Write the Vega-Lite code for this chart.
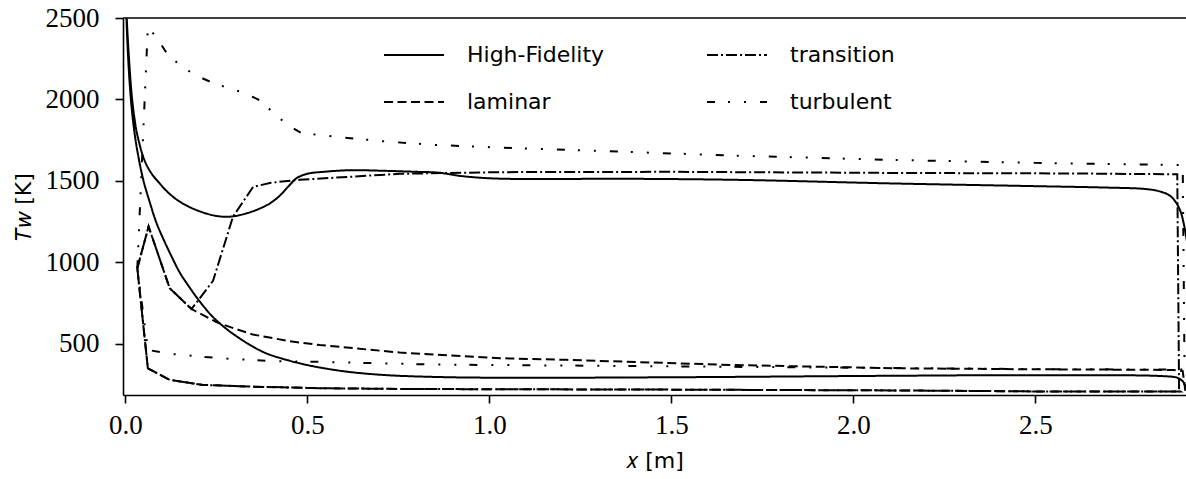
{
  "$schema": "https://vega.github.io/schema/vega-lite/v6.json",
  "width": 1063,
  "height": 377,
  "autosize": {"type": "none"},
  "padding": {"left": 123, "top": 18, "right": 0, "bottom": 84},
  "background": "white",
  "config": {
    "view": {"stroke": null}
  },
  "datasets": {
    "curves": [
      {"model": "High-Fidelity", "i": 0, "x": 0.0, "T": 2800},
      {"model": "High-Fidelity", "i": 1, "x": 0.004, "T": 2500},
      {"model": "High-Fidelity", "i": 2, "x": 0.008, "T": 2330},
      {"model": "High-Fidelity", "i": 3, "x": 0.012, "T": 2190},
      {"model": "High-Fidelity", "i": 4, "x": 0.017, "T": 2040},
      {"model": "High-Fidelity", "i": 5, "x": 0.023, "T": 1920},
      {"model": "High-Fidelity", "i": 6, "x": 0.03, "T": 1815},
      {"model": "High-Fidelity", "i": 7, "x": 0.038, "T": 1735},
      {"model": "High-Fidelity", "i": 8, "x": 0.048, "T": 1655},
      {"model": "High-Fidelity", "i": 9, "x": 0.06, "T": 1590},
      {"model": "High-Fidelity", "i": 10, "x": 0.075, "T": 1535},
      {"model": "High-Fidelity", "i": 11, "x": 0.09, "T": 1495},
      {"model": "High-Fidelity", "i": 12, "x": 0.11, "T": 1445},
      {"model": "High-Fidelity", "i": 13, "x": 0.135, "T": 1395},
      {"model": "High-Fidelity", "i": 14, "x": 0.16, "T": 1358},
      {"model": "High-Fidelity", "i": 15, "x": 0.2, "T": 1316},
      {"model": "High-Fidelity", "i": 16, "x": 0.25, "T": 1284},
      {"model": "High-Fidelity", "i": 17, "x": 0.29, "T": 1280},
      {"model": "High-Fidelity", "i": 18, "x": 0.33, "T": 1298},
      {"model": "High-Fidelity", "i": 19, "x": 0.37, "T": 1330},
      {"model": "High-Fidelity", "i": 20, "x": 0.4, "T": 1365},
      {"model": "High-Fidelity", "i": 21, "x": 0.425, "T": 1410},
      {"model": "High-Fidelity", "i": 22, "x": 0.45, "T": 1470},
      {"model": "High-Fidelity", "i": 23, "x": 0.47, "T": 1515},
      {"model": "High-Fidelity", "i": 24, "x": 0.5, "T": 1543},
      {"model": "High-Fidelity", "i": 25, "x": 0.55, "T": 1556},
      {"model": "High-Fidelity", "i": 26, "x": 0.62, "T": 1565},
      {"model": "High-Fidelity", "i": 27, "x": 0.7, "T": 1562},
      {"model": "High-Fidelity", "i": 28, "x": 0.8, "T": 1555},
      {"model": "High-Fidelity", "i": 29, "x": 0.86, "T": 1550},
      {"model": "High-Fidelity", "i": 30, "x": 0.92, "T": 1530},
      {"model": "High-Fidelity", "i": 31, "x": 0.98, "T": 1518},
      {"model": "High-Fidelity", "i": 32, "x": 1.05, "T": 1512},
      {"model": "High-Fidelity", "i": 33, "x": 1.4, "T": 1512},
      {"model": "High-Fidelity", "i": 34, "x": 1.7, "T": 1505},
      {"model": "High-Fidelity", "i": 35, "x": 2.1, "T": 1484},
      {"model": "High-Fidelity", "i": 36, "x": 2.5, "T": 1467},
      {"model": "High-Fidelity", "i": 37, "x": 2.7, "T": 1458},
      {"model": "High-Fidelity", "i": 38, "x": 2.8, "T": 1450},
      {"model": "High-Fidelity", "i": 39, "x": 2.84, "T": 1436},
      {"model": "High-Fidelity", "i": 40, "x": 2.87, "T": 1408},
      {"model": "High-Fidelity", "i": 41, "x": 2.888, "T": 1362},
      {"model": "High-Fidelity", "i": 42, "x": 2.9, "T": 1305},
      {"model": "High-Fidelity", "i": 43, "x": 2.907, "T": 1245},
      {"model": "High-Fidelity", "i": 44, "x": 2.913, "T": 1175},
      {"model": "High-Fidelity", "i": 45, "x": 2.93, "T": 900},
      {"model": "High-Fidelity", "i": 46, "x": 2.935, "T": 600},
      {"model": "High-Fidelity", "i": 47, "x": 2.93, "T": 300},
      {"model": "High-Fidelity", "i": 48, "x": 2.915, "T": 235},
      {"model": "High-Fidelity", "i": 49, "x": 2.905, "T": 268},
      {"model": "High-Fidelity", "i": 50, "x": 2.89, "T": 290},
      {"model": "High-Fidelity", "i": 51, "x": 2.85, "T": 300},
      {"model": "High-Fidelity", "i": 52, "x": 2.5, "T": 306},
      {"model": "High-Fidelity", "i": 53, "x": 2.1, "T": 302},
      {"model": "High-Fidelity", "i": 54, "x": 1.5, "T": 293},
      {"model": "High-Fidelity", "i": 55, "x": 1.03, "T": 290},
      {"model": "High-Fidelity", "i": 56, "x": 0.85, "T": 295},
      {"model": "High-Fidelity", "i": 57, "x": 0.71, "T": 307},
      {"model": "High-Fidelity", "i": 58, "x": 0.6, "T": 330},
      {"model": "High-Fidelity", "i": 59, "x": 0.5, "T": 368},
      {"model": "High-Fidelity", "i": 60, "x": 0.43, "T": 408},
      {"model": "High-Fidelity", "i": 61, "x": 0.387, "T": 440},
      {"model": "High-Fidelity", "i": 62, "x": 0.35, "T": 482},
      {"model": "High-Fidelity", "i": 63, "x": 0.314, "T": 532},
      {"model": "High-Fidelity", "i": 64, "x": 0.278, "T": 590},
      {"model": "High-Fidelity", "i": 65, "x": 0.24, "T": 665},
      {"model": "High-Fidelity", "i": 66, "x": 0.204, "T": 760},
      {"model": "High-Fidelity", "i": 67, "x": 0.175, "T": 850},
      {"model": "High-Fidelity", "i": 68, "x": 0.15, "T": 935},
      {"model": "High-Fidelity", "i": 69, "x": 0.125, "T": 1045},
      {"model": "High-Fidelity", "i": 70, "x": 0.105, "T": 1140},
      {"model": "High-Fidelity", "i": 71, "x": 0.085, "T": 1245},
      {"model": "High-Fidelity", "i": 72, "x": 0.067, "T": 1370},
      {"model": "High-Fidelity", "i": 73, "x": 0.05, "T": 1500},
      {"model": "High-Fidelity", "i": 74, "x": 0.035, "T": 1660},
      {"model": "High-Fidelity", "i": 75, "x": 0.025, "T": 1800},
      {"model": "High-Fidelity", "i": 76, "x": 0.017, "T": 1960},
      {"model": "High-Fidelity", "i": 77, "x": 0.012, "T": 2100},
      {"model": "High-Fidelity", "i": 78, "x": 0.008, "T": 2250},
      {"model": "High-Fidelity", "i": 79, "x": 0.004, "T": 2450},
      {"model": "High-Fidelity", "i": 80, "x": 0.0, "T": 2800},

      {"model": "laminar", "i": 0, "x": 0.033, "T": 963},
      {"model": "laminar", "i": 1, "x": 0.064, "T": 1219},
      {"model": "laminar", "i": 2, "x": 0.122, "T": 840},
      {"model": "laminar", "i": 3, "x": 0.182, "T": 712},
      {"model": "laminar", "i": 4, "x": 0.25, "T": 632},
      {"model": "laminar", "i": 5, "x": 0.3, "T": 592},
      {"model": "laminar", "i": 6, "x": 0.35, "T": 556},
      {"model": "laminar", "i": 7, "x": 0.45, "T": 515},
      {"model": "laminar", "i": 8, "x": 0.534, "T": 491},
      {"model": "laminar", "i": 9, "x": 0.754, "T": 445},
      {"model": "laminar", "i": 10, "x": 1.03, "T": 410},
      {"model": "laminar", "i": 11, "x": 1.212, "T": 400},
      {"model": "laminar", "i": 12, "x": 1.67, "T": 368},
      {"model": "laminar", "i": 13, "x": 2.128, "T": 348},
      {"model": "laminar", "i": 14, "x": 2.5, "T": 342},
      {"model": "laminar", "i": 15, "x": 2.88, "T": 338},
      {"model": "laminar", "i": 16, "x": 2.905, "T": 330},
      {"model": "laminar", "i": 17, "x": 2.912, "T": 215},
      {"model": "laminar", "i": 18, "x": 2.9, "T": 205},
      {"model": "laminar", "i": 19, "x": 2.5, "T": 206},
      {"model": "laminar", "i": 20, "x": 2.13, "T": 212},
      {"model": "laminar", "i": 21, "x": 1.5, "T": 217},
      {"model": "laminar", "i": 22, "x": 0.75, "T": 221},
      {"model": "laminar", "i": 23, "x": 0.534, "T": 226},
      {"model": "laminar", "i": 24, "x": 0.35, "T": 235},
      {"model": "laminar", "i": 25, "x": 0.213, "T": 246},
      {"model": "laminar", "i": 26, "x": 0.122, "T": 277},
      {"model": "laminar", "i": 27, "x": 0.062, "T": 348},
      {"model": "laminar", "i": 28, "x": 0.033, "T": 963},

      {"model": "transition", "i": 0, "x": 0.033, "T": 963},
      {"model": "transition", "i": 1, "x": 0.064, "T": 1219},
      {"model": "transition", "i": 2, "x": 0.122, "T": 840},
      {"model": "transition", "i": 3, "x": 0.182, "T": 712},
      {"model": "transition", "i": 4, "x": 0.241, "T": 885},
      {"model": "transition", "i": 5, "x": 0.296, "T": 1280},
      {"model": "transition", "i": 6, "x": 0.351, "T": 1462},
      {"model": "transition", "i": 7, "x": 0.4, "T": 1488},
      {"model": "transition", "i": 8, "x": 0.479, "T": 1506},
      {"model": "transition", "i": 9, "x": 0.754, "T": 1543},
      {"model": "transition", "i": 10, "x": 1.03, "T": 1553},
      {"model": "transition", "i": 11, "x": 1.5, "T": 1555},
      {"model": "transition", "i": 12, "x": 2.13, "T": 1548},
      {"model": "transition", "i": 13, "x": 2.6, "T": 1545},
      {"model": "transition", "i": 14, "x": 2.89, "T": 1540},
      {"model": "transition", "i": 15, "x": 2.895, "T": 215},
      {"model": "transition", "i": 16, "x": 2.9, "T": 205},
      {"model": "transition", "i": 17, "x": 2.5, "T": 206},
      {"model": "transition", "i": 18, "x": 2.13, "T": 212},
      {"model": "transition", "i": 19, "x": 1.5, "T": 217},
      {"model": "transition", "i": 20, "x": 0.75, "T": 221},
      {"model": "transition", "i": 21, "x": 0.534, "T": 226},
      {"model": "transition", "i": 22, "x": 0.35, "T": 235},
      {"model": "transition", "i": 23, "x": 0.213, "T": 246},
      {"model": "transition", "i": 24, "x": 0.122, "T": 277},
      {"model": "transition", "i": 25, "x": 0.062, "T": 348},
      {"model": "transition", "i": 26, "x": 0.033, "T": 963},

      {"model": "turbulent", "i": 0, "x": 0.033, "T": 963},
      {"model": "turbulent", "i": 1, "x": 0.062, "T": 2446},
      {"model": "turbulent", "i": 2, "x": 0.087, "T": 2377},
      {"model": "turbulent", "i": 3, "x": 0.115, "T": 2280},
      {"model": "turbulent", "i": 4, "x": 0.147, "T": 2217},
      {"model": "turbulent", "i": 5, "x": 0.19, "T": 2151},
      {"model": "turbulent", "i": 6, "x": 0.236, "T": 2106},
      {"model": "turbulent", "i": 7, "x": 0.278, "T": 2073},
      {"model": "turbulent", "i": 8, "x": 0.328, "T": 2039},
      {"model": "turbulent", "i": 9, "x": 0.371, "T": 1993},
      {"model": "turbulent", "i": 10, "x": 0.403, "T": 1926},
      {"model": "turbulent", "i": 11, "x": 0.443, "T": 1847},
      {"model": "turbulent", "i": 12, "x": 0.484, "T": 1793},
      {"model": "turbulent", "i": 13, "x": 0.571, "T": 1772},
      {"model": "turbulent", "i": 14, "x": 0.717, "T": 1741},
      {"model": "turbulent", "i": 15, "x": 0.845, "T": 1721},
      {"model": "turbulent", "i": 16, "x": 1.029, "T": 1704},
      {"model": "turbulent", "i": 17, "x": 1.212, "T": 1690},
      {"model": "turbulent", "i": 18, "x": 1.67, "T": 1655},
      {"model": "turbulent", "i": 19, "x": 2.09, "T": 1629},
      {"model": "turbulent", "i": 20, "x": 2.5, "T": 1610},
      {"model": "turbulent", "i": 21, "x": 2.86, "T": 1598},
      {"model": "turbulent", "i": 22, "x": 2.905, "T": 1596},
      {"model": "turbulent", "i": 23, "x": 2.91, "T": 345},
      {"model": "turbulent", "i": 24, "x": 2.9, "T": 340},
      {"model": "turbulent", "i": 25, "x": 2.5, "T": 343},
      {"model": "turbulent", "i": 26, "x": 2.1, "T": 350},
      {"model": "turbulent", "i": 27, "x": 1.5, "T": 360},
      {"model": "turbulent", "i": 28, "x": 1.03, "T": 368},
      {"model": "turbulent", "i": 29, "x": 0.845, "T": 371},
      {"model": "turbulent", "i": 30, "x": 0.525, "T": 388},
      {"model": "turbulent", "i": 31, "x": 0.397, "T": 393},
      {"model": "turbulent", "i": 32, "x": 0.259, "T": 410},
      {"model": "turbulent", "i": 33, "x": 0.122, "T": 437},
      {"model": "turbulent", "i": 34, "x": 0.062, "T": 461},
      {"model": "turbulent", "i": 35, "x": 0.033, "T": 963}
    ]
  },
  "layer": [
    {
      "data": {"name": "curves"},
      "transform": [{"filter": "datum.model === 'High-Fidelity'"}],
      "mark": {"type": "line", "clip": true, "color": "black", "strokeWidth": 2, "interpolate": "catmull-rom"},
      "encoding": {
        "x": {"field": "x", "type": "quantitative", "scale": {"domain": [-0.0063, 2.914], "nice": false, "zero": false},
              "axis": {"values": [0, 0.5, 1, 1.5, 2, 2.5], "format": ".1f", "title": "𝑥 [m]", "grid": false,
                       "domainColor": "black", "domainWidth": 1.6, "tickColor": "black", "tickWidth": 1.6, "tickSize": 8,
                       "labelFont": "Liberation Serif", "labelFontSize": 27, "labelColor": "black", "labelPadding": 9,
                       "titleFont": "DejaVu Sans", "titleFontSize": 22, "titleFontWeight": "normal", "titleColor": "black", "titlePadding": 12}},
        "y": {"field": "T", "type": "quantitative", "scale": {"domain": [184, 2500], "nice": false, "zero": false},
              "axis": {"values": [500, 1000, 1500, 2000, 2500], "format": "d", "title": "𝑇𝑤 [K]", "grid": false,
                       "domainColor": "black", "domainWidth": 1.6, "tickColor": "black", "tickWidth": 1.6, "tickSize": 8,
                       "labelFont": "Liberation Serif", "labelFontSize": 27, "labelColor": "black", "labelPadding": 16,
                       "titleFont": "DejaVu Sans", "titleFontSize": 22, "titleFontWeight": "normal", "titleColor": "black", "titlePadding": 10}},
        "order": {"field": "i", "type": "quantitative"},
        "strokeDash": {"field": "model", "type": "nominal",
                       "scale": {"domain": ["High-Fidelity", "laminar", "transition", "turbulent"],
                                 "range": [[1, 0], [9, 4.5], [11, 3, 2, 3], [8, 13, 2, 14, 2, 14]]},
                       "legend": {"title": null, "orient": "none", "legendX": 280, "legendY": 26, "columns": 2,
                                  "columnPadding": 98, "rowPadding": 25, "symbolType": "M-3,0H3", "symbolSize": 400,
                                  "symbolStrokeWidth": 2, "symbolStrokeColor": "black", "labelFont": "DejaVu Sans",
                                  "labelFontSize": 22, "labelColor": "black", "labelOffset": 42, "labelLimit": 400}}
      }
    },
    {
      "data": {"name": "curves"},
      "transform": [{"filter": "datum.model !== 'High-Fidelity'"}],
      "mark": {"type": "line", "clip": true, "color": "black", "strokeWidth": 2},
      "encoding": {
        "x": {"field": "x", "type": "quantitative"},
        "y": {"field": "T", "type": "quantitative"},
        "order": {"field": "i", "type": "quantitative"},
        "strokeDash": {"field": "model", "type": "nominal"}
      }
    },
    {
      "data": {"values": [{}]},
      "mark": {"type": "rule", "color": "black", "strokeWidth": 1.6},
      "encoding": {"y": {"datum": 2500}}
    }
  ]
}
